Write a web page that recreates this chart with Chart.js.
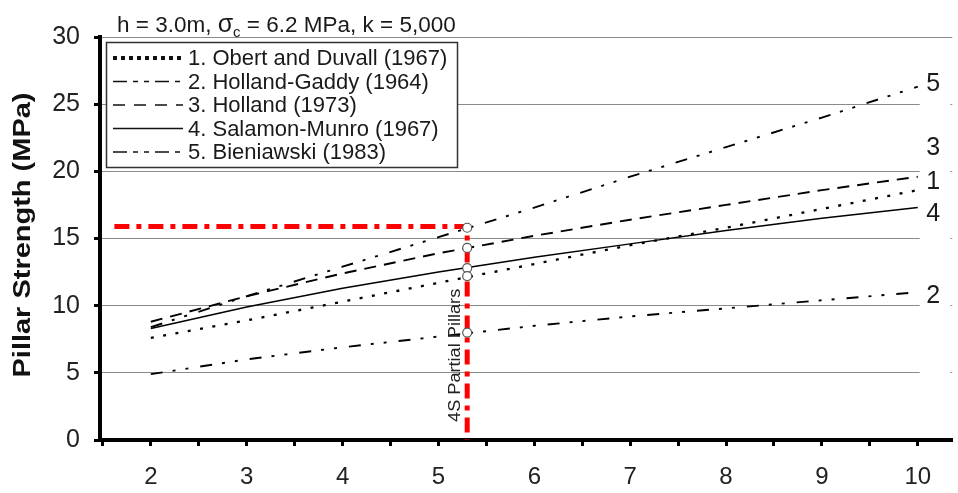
<!DOCTYPE html>
<html>
<head>
<meta charset="utf-8">
<script src="https://cdn.jsdelivr.net/npm/chart.js@4.4.1/dist/chart.umd.min.js"></script>
<style>
  html, body { margin: 0; padding: 0; background: #fff; }
  #wrap { width: 958px; height: 493px; }
</style>
</head>
<body>
<div id="wrap"><canvas id="myChart" width="958" height="493"></canvas></div>
<script>
// w/h ratio on the x axis
var ratio = [2, 3, 4, 5, 6, 7, 8, 9, 10];

// pillar strength (MPa)
var obertDuvall  = [7.6, 8.9, 10.3, 11.7, 13.1, 14.5, 15.8, 17.2, 18.6];
var hollandGaddy = [4.9, 6.0, 6.9, 7.7, 8.5, 9.2, 9.8, 10.4, 11.0];
var holland      = [8.8, 10.7, 12.4, 13.9, 15.2, 16.4, 17.5, 18.6, 19.6];
var salamonMunro = [8.3, 9.9, 11.3, 12.5, 13.6, 14.6, 15.6, 16.5, 17.3];
var bieniawski   = [8.4, 10.7, 12.9, 15.1, 17.3, 19.6, 21.8, 24.0, 26.3];

var seriesNames = ['1. Obert and Duvall (1967)', '2. Holland-Gaddy (1964)', '3. Holland (1973)',
                   '4. Salamon-Munro (1967)', '5. Bieniawski (1983)'];
var endLabels = ['1', '2', '3', '4', '5'];

// 4S partial pillars
var markRatio = 5.3;
var markStrength = [15.8, 14.3, 12.8, 12.2, 8.0];
var refStrength = 15.9;
var refStart = 1.62;

var yTicks = [0, 5, 10, 15, 20, 25, 30];

function pts(ys) {
    return ratio.map(function(x, i) { return {x: x, y: ys[i]}; });
}

var dashes = [[3, 9.5], [12, 10, 3, 10, 3, 12], [12, 8], [], [12, 10, 3, 10, 3, 12]];
var legendDashes = [[4, 4], [14, 6, 5, 6, 5, 6], [12, 9], [], [14, 6, 5, 6, 5, 6]];
var widths = [2.3, 1.9, 1.9, 1.5, 1.9];
// label y positions (in MPa) next to the line ends
var endLabelY = [19.2, 10.7, 21.7, 16.8, 26.5];

var FONT = '"Liberation Sans", Arial, sans-serif';

var series = [obertDuvall, hollandGaddy, holland, salamonMunro, bieniawski];
var datasets = [];

datasets.push({
    label: 'marks',
    data: markStrength.map(function(v) { return {x: markRatio, y: v}; }),
    showLine: false,
    pointRadius: 4.5,
    pointBackgroundColor: '#fff',
    pointBorderColor: '#555',
    pointBorderWidth: 1.2
});
datasets.push({
    label: 'ref',
    data: [{x: refStart, y: refStrength}, {x: markRatio, y: refStrength}, {x: markRatio, y: 0}],
    borderColor: '#ff0000',
    borderWidth: 5,
    borderDash: [15, 7, 5, 7],
    pointRadius: 0
});
series.forEach(function(s, i) {
    datasets.push({
        label: seriesNames[i],
        data: pts(s),
        borderColor: '#000',
        borderWidth: widths[i],
        borderDash: dashes[i],
        pointRadius: 0
    });
});

var extras = {
    id: 'extras',
    beforeDatasetsDraw: function(chart) {
        var ctx = chart.ctx, a = chart.chartArea, x = chart.scales.x;
        ctx.save();
        ctx.fillStyle = '#fff';
        var x0 = x.getPixelForValue(10.02), x1 = x.getPixelForValue(10.34);
        ctx.fillRect(x0, a.top + 2, x1 - x0, a.bottom - a.top - 5);
        ctx.restore();
    },
    afterDatasetsDraw: function(chart) {
        var ctx = chart.ctx, x = chart.scales.x, y = chart.scales.y;
        ctx.save();
        ctx.fillStyle = '#1a1a1a';

        // title
        ctx.font = '22.5px ' + FONT;
        ctx.textBaseline = 'alphabetic';
        ctx.textAlign = 'left';
        var tx = 117, ty = 32;
        ctx.fillText('h = 3.0m, ', tx, ty);
        tx += ctx.measureText('h = 3.0m, ').width;
        ctx.font = '25px ' + FONT;
        ctx.fillText('σ', tx, ty);
        tx += ctx.measureText('σ').width;
        ctx.font = '15px ' + FONT;
        ctx.fillText('c', tx, ty + 5);
        tx += ctx.measureText('c').width;
        ctx.font = '22.5px ' + FONT;
        ctx.fillText(' = 6.2 MPa, k = 5,000', tx, ty);

        // y axis title
        ctx.save();
        ctx.translate(23, 235);
        ctx.rotate(-Math.PI / 2);
        ctx.font = 'bold 24px ' + FONT;
        var tw = ctx.measureText('Pillar Strength (MPa)').width;
        ctx.scale(285 / tw, 1);
        ctx.textAlign = 'center';
        ctx.textBaseline = 'middle';
        ctx.fillStyle = '#111';
        ctx.fillText('Pillar Strength (MPa)', 0, 0);
        ctx.restore();

        // legend
        ctx.fillStyle = '#fff';
        ctx.fillRect(106, 42, 352, 126);
        ctx.strokeStyle = '#333';
        ctx.lineWidth = 1.5;
        ctx.strokeRect(106.5, 42.5, 351, 125);
        ctx.font = '22px ' + FONT;
        ctx.textBaseline = 'middle';
        for (var i = 0; i < 5; i++) {
            var ry = 58 + i * 23.5;
            ctx.strokeStyle = '#111';
            ctx.lineWidth = i === 0 ? 4 : 1.6;
            ctx.setLineDash(legendDashes[i]);
            ctx.beginPath();
            ctx.moveTo(113, ry);
            ctx.lineTo(183, ry);
            ctx.stroke();
            ctx.setLineDash([]);
            ctx.fillStyle = '#1a1a1a';
            ctx.fillText(seriesNames[i], 188, ry + 1);
        }

        // end labels
        ctx.font = '25px ' + FONT;
        ctx.textAlign = 'center';
        for (var j = 0; j < 5; j++) {
            ctx.fillText(endLabels[j], x.getPixelForValue(10.16), y.getPixelForValue(endLabelY[j]));
        }

        // 4S label
        ctx.save();
        ctx.translate(x.getPixelForValue(markRatio) - 12, y.getPixelForValue(6.3));
        ctx.rotate(-Math.PI / 2);
        ctx.scale(1.1, 1);
        ctx.font = '16.5px ' + FONT;
        ctx.fillStyle = '#222';
        ctx.textAlign = 'center';
        ctx.fillText('4S Partial Pillars', 0, 0);
        ctx.restore();

        ctx.restore();
    }
};

var ctx = document.getElementById('myChart').getContext('2d');
var myChart = new Chart(ctx, {
    type: 'line',
    data: { datasets: datasets },
    plugins: [extras],
    options: {
        responsive: false,
        animation: false,
        layout: { padding: { top: 37, right: 0, left: 0, bottom: 0 } },
        plugins: { legend: { display: false }, tooltip: { enabled: false } },
        elements: { line: { tension: 0 } },
        scales: {
            x: {
                type: 'linear',
                min: 1.47,
                max: 10.36,
                afterFit: function(s) { s.height = 53; },
                ticks: {
                    stepSize: 0.5,
                    includeBounds: false,
                    autoSkip: false,
                    maxRotation: 0,
                    padding: 17,
                    color: '#222',
                    font: { family: FONT, size: 24 },
                    callback: function(v) { return Number.isInteger(v) ? v : ''; }
                },
                grid: { drawOnChartArea: false, drawTicks: true, tickLength: 6, tickWidth: 3, tickColor: '#000' },
                border: { display: true, color: '#000', width: 4 }
            },
            y: {
                min: 0,
                max: 30,
                afterFit: function(s) { s.width = 100; },
                afterBuildTicks: function(s) { s.ticks = yTicks.map(function(v) { return {value: v}; }); },
                ticks: {
                    padding: 14,
                    color: '#222',
                    font: { family: FONT, size: 25 }
                },
                grid: { color: '#8a8a8a', lineWidth: 1, tickLength: 6, tickWidth: 3, tickColor: '#000' },
                border: { display: true, color: '#000', width: 4 },
                title: { display: false }
            }
        }
    }
});
</script>
</body>
</html>
